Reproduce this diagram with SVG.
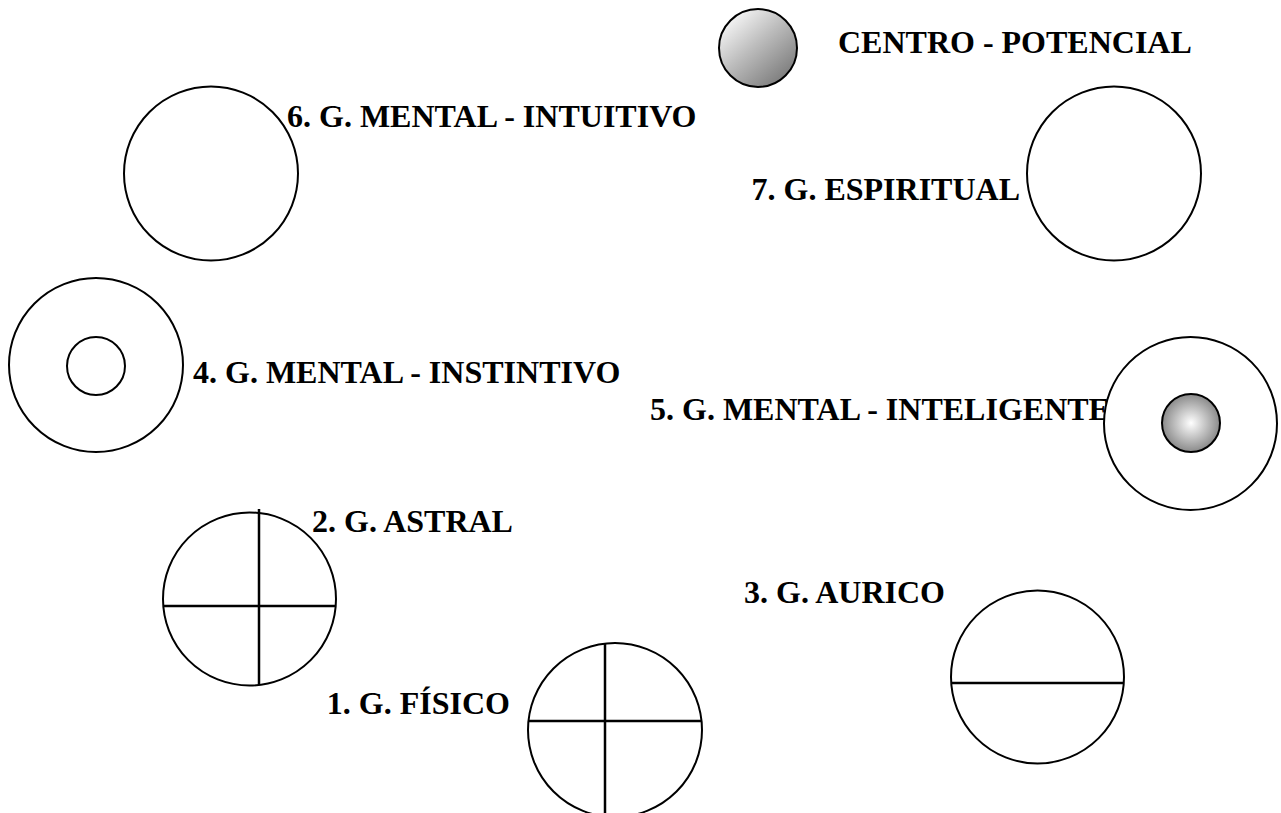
<svg xmlns="http://www.w3.org/2000/svg" width="1281" height="813" viewBox="0 0 1281 813">
<style>
.c{fill:#fff;stroke:#000;stroke-width:2}
.l{stroke:#000;stroke-width:2.5;fill:none}
.t{font-family:"Liberation Serif","Times New Roman",serif;font-weight:bold;font-size:32px;fill:#000}
</style>
<defs>
<linearGradient id="gTop" x1="0.15" y1="0.1" x2="0.85" y2="0.9">
<stop offset="0" stop-color="#f6f6f6"/>
<stop offset="0.45" stop-color="#bdbdbd"/>
<stop offset="1" stop-color="#7c7c7c"/>
</linearGradient>
<radialGradient id="gIn" cx="0.5" cy="0.5" r="0.5">
<stop offset="0" stop-color="#ffffff"/>
<stop offset="1" stop-color="#8a8a8a"/>
</radialGradient>
</defs>
<rect width="1281" height="813" fill="#fff"/>
<g id="centro">
<circle cx="758" cy="48" r="39" fill="url(#gTop)" stroke="#000" stroke-width="2"/>
<text class="t" x="838" y="53">CENTRO - POTENCIAL</text>
</g>
<g id="n6">
<circle class="c" cx="211" cy="173.5" r="87"/>
<text class="t" x="287" y="127">6. G. MENTAL - INTUITIVO</text>
</g>
<g id="n7">
<text class="t" x="1020" y="200" text-anchor="end">7. G. ESPIRITUAL</text>
<circle class="c" cx="1114" cy="173.5" r="87"/>
</g>
<g id="n4">
<circle class="c" cx="96" cy="365" r="87"/>
<circle class="c" cx="96" cy="366" r="29"/>
<text class="t" x="193" y="383">4. G. MENTAL - INSTINTIVO</text>
</g>
<g id="n5">
<text class="t" x="650" y="420">5. G. MENTAL - INTELIGENTE</text>
<circle class="c" cx="1190.5" cy="423.5" r="86.5"/>
<circle cx="1191" cy="423" r="29" fill="url(#gIn)" stroke="#000" stroke-width="2"/>
</g>
<g id="n2">
<circle class="c" cx="249.5" cy="599" r="86.5"/>
<line class="l" x1="259" y1="509" x2="259" y2="684"/>
<line class="l" x1="163" y1="606" x2="336" y2="606"/>
<text class="t" x="312" y="532">2. G. ASTRAL</text>
</g>
<g id="n3">
<circle class="c" cx="1037.5" cy="677" r="86.5"/>
<line class="l" x1="951" y1="683" x2="1124" y2="683"/>
<text class="t" x="945" y="603" text-anchor="end">3. G. AURICO</text>
</g>
<g id="n1">
<circle class="c" cx="615" cy="730" r="87"/>
<line class="l" x1="605" y1="643" x2="605" y2="813"/>
<line class="l" x1="528" y1="721" x2="702" y2="721"/>
<text class="t" x="510" y="714" text-anchor="end">1. G. FÍSICO</text>
</g>
<g id="connectors"/>
</svg>
